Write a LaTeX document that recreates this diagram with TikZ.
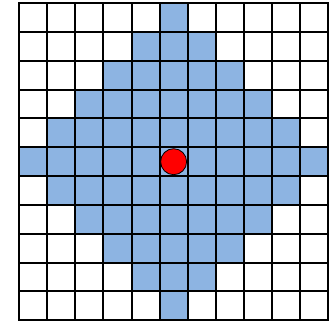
\documentclass[tikz,border=0pt]{standalone}
\definecolor{cellblue}{RGB}{141,180,226}
\begin{document}
\begin{tikzpicture}[x=1pt,y=1pt,
  cell/.style={draw=black, line width=2pt, minimum width=28.06pt, minimum height=28.8pt, inner sep=0pt, outer sep=0pt},
  dot/.style={circle, draw=black, line width=0.8pt, fill=red, minimum size=26pt, inner sep=0pt}]
\useasboundingbox (0,0) rectangle (335,322);
\foreach \i in {0,...,10}{
  \foreach \j in {0,...,10}{
    \pgfmathtruncatemacro{\d}{abs(\i-5)+abs(\j-5)}
    \ifnum\d<6 \def\fc{cellblue}\else\def\fc{white}\fi
    \node[cell, fill=\fc] (c-\i-\j) at ({19.3+(\i+0.5)*28.06},{318.7-(\j+0.5)*28.8}) {};
  }
}
\node[dot] (center) at (c-5-5) {};
\end{tikzpicture}
\end{document}
